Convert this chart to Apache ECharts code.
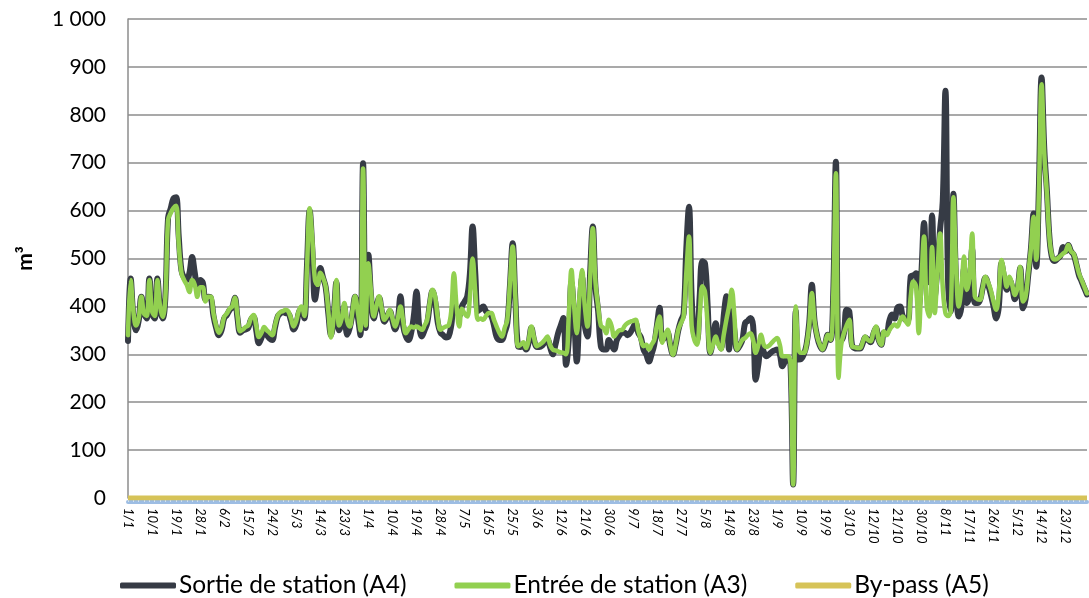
<!DOCTYPE html>
<html>
<head>
<meta charset="utf-8">
<title>Volumes journaliers</title>
<script src="https://cdn.jsdelivr.net/npm/echarts@6/dist/echarts.min.js"></script>
<style>
  html, body { margin: 0; padding: 0; background: #fff; }
  #chart { width: 1089px; height: 598px; }
</style>
</head>
<body>
<div id="chart"></div>
<script>
// days with no measurement (the axis jumps from 19/9 to 3/10 in 9 steps)
var missingDays = ['24/9', '25/9', '26/9', '27/9', '28/9']
var monthLengths = [31, 28, 31, 30, 31, 30, 31, 31, 30, 31, 30, 31]

var yTicks = [0, 100, 200, 300, 400, 500, 600, 700, 800, 900, 1000]

// Sortie de station (A4), m3
var sortieA4 = [
  328, 458, 380, 350, 370, 420, 385, 375, 458, 385,
  375, 458, 395, 375, 420, 585, 605, 625, 628, 545,
  475, 460, 455, 470, 503, 470, 440, 455, 450, 415,
  420, 418, 380, 355, 340, 350, 375, 382, 392, 398,
  418, 375, 345, 350, 352, 355, 372, 378, 350, 323,
  335, 350, 340, 333, 330, 355, 378, 385, 388, 386,
  385, 370, 352, 362, 388, 395, 375, 485, 600, 520,
  414, 450, 480, 460, 440, 385, 340, 380, 450, 350,
  365, 400, 341, 355, 385, 420, 380, 340, 699, 355,
  508, 420, 375, 398, 418, 390, 368, 378, 390, 370,
  352, 372, 421, 360, 338, 330, 345, 380, 431, 360,
  337, 350, 365, 405, 432, 410, 365, 345, 340, 335,
  337, 360, 400, 395, 380, 400, 410, 421, 470, 567,
  470, 390, 395, 400, 390, 385, 380, 360, 336, 330,
  330, 345, 365, 445, 532, 415, 317, 315, 320, 310,
  325, 355, 330, 315, 315, 318, 325, 332, 315, 300,
  320, 344, 360, 376, 278, 330, 450, 380, 285, 390,
  460, 360, 337, 470, 567, 440, 390, 317, 310, 310,
  330, 320, 310, 330, 340, 345, 345, 340, 345, 355,
  365, 345, 335, 310, 300, 285, 300, 320, 360, 397,
  330, 335, 345, 318, 300, 320, 350, 370, 385, 520,
  608, 420, 340, 330, 420, 494, 490, 400, 303, 330,
  365, 330, 312, 380, 421, 310, 390, 350, 310, 318,
  330, 365, 370, 376, 360, 247, 280, 320, 305, 296,
  300, 305, 308, 310, 300, 275, 285, 290, 280, 28,
  390, 289, 290, 300, 320, 365, 445, 370, 337, 318,
  310, 322, 341, 330, 425, 702, 330, 330, 344, 393,
  390, 320, 313, 312, 312, 322, 335, 330, 325, 342,
  355, 330, 320, 345, 345, 370, 383, 375, 397, 400,
  380, 372, 370, 462, 465, 469, 400, 470, 574, 470,
  450, 590, 420, 480, 560, 620, 850, 450, 390, 635,
  450, 379, 400, 480, 407, 420, 520, 407, 407, 414,
  440, 460, 445, 425, 400, 375, 400, 490, 460, 435,
  455, 440, 415, 435, 480, 396, 415, 465, 520, 594,
  483, 650, 878, 730, 640, 540, 500, 495, 500, 505,
  524, 515, 528, 515, 508, 488, 465, 452, 438, 425
]

// Entrée de station (A3), m3
var entreeA3 = [
  340, 455, 390, 360, 375, 420, 385, 380, 455, 390,
  380, 455, 400, 378, 420, 580, 595, 605, 610, 530,
  470, 455, 445, 430, 455, 445, 420, 440, 440, 410,
  420, 420, 385, 360, 345, 355, 378, 385, 395, 400,
  418, 380, 348, 352, 357, 360, 375, 382, 360, 336,
  345, 357, 350, 345, 340, 360, 380, 388, 390, 393,
  390, 375, 358, 370, 392, 400, 380, 480, 605, 540,
  455, 445, 470, 460, 442, 390, 335, 380, 455, 360,
  375, 407, 370, 358, 390, 421, 390, 350, 688, 360,
  490, 430, 379, 400, 421, 395, 372, 380, 393, 375,
  358, 375, 400, 370, 344, 352, 358, 356, 358, 355,
  351, 360, 372, 410, 435, 420, 375, 351, 355, 358,
  360, 390, 469, 400, 358, 395, 385, 379, 420, 500,
  430, 372, 375, 372, 380, 386, 386, 372, 358, 345,
  337, 355, 372, 450, 525, 420, 317, 320, 325, 313,
  330, 358, 335, 317, 320, 324, 330, 337, 320, 310,
  308, 306, 304, 303, 300, 380, 476, 400, 344, 420,
  476, 400, 358, 460, 563, 450, 400, 360, 355, 344,
  372, 360, 337, 345, 350, 351, 360, 365, 368, 370,
  372, 350, 330, 317, 320, 310, 320, 330, 360, 379,
  324, 340, 351, 320, 299, 320, 351, 365, 379, 470,
  546, 360, 330, 320, 380, 442, 430, 360, 303, 320,
  337, 320, 310, 340, 372, 400, 435, 380, 310, 320,
  330, 334, 340, 344, 330, 303, 320, 341, 320, 315,
  318, 324, 330, 334, 320, 296, 296, 296, 280, 28,
  400, 310, 303, 303, 320, 360, 428, 370, 337, 320,
  310, 325, 341, 330, 420, 678, 251, 320, 344, 360,
  372, 317, 315, 313, 313, 325, 337, 330, 327, 345,
  358, 330, 320, 348, 340, 350, 358, 362, 358, 370,
  379, 370, 362, 420, 452, 442, 344, 450, 546, 400,
  379, 524, 386, 470, 552, 440, 386, 380, 390, 628,
  480, 400, 440, 504, 434, 460, 552, 421, 415, 414,
  440, 462, 450, 434, 410, 393, 430, 497, 470, 441,
  462, 445, 424, 440, 483, 410, 420, 469, 520, 587,
  497, 640, 864, 720, 635, 540, 504, 498, 500, 505,
  510, 515, 528, 515, 510, 490, 469, 455, 441, 427
]

// By-pass (A5), m3 : nothing over the year
var bypassA5 = [
  0, 0, 0, 0, 0, 0, 0, 0, 0, 0, 0, 0, 0, 0, 0, 0, 0, 0, 0, 0, 0, 0, 0, 0, 0, 0, 0, 0, 0, 0,
  0, 0, 0, 0, 0, 0, 0, 0, 0, 0, 0, 0, 0, 0, 0, 0, 0, 0, 0, 0, 0, 0, 0, 0, 0, 0, 0, 0, 0, 0,
  0, 0, 0, 0, 0, 0, 0, 0, 0, 0, 0, 0, 0, 0, 0, 0, 0, 0, 0, 0, 0, 0, 0, 0, 0, 0, 0, 0, 0, 0,
  0, 0, 0, 0, 0, 0, 0, 0, 0, 0, 0, 0, 0, 0, 0, 0, 0, 0, 0, 0, 0, 0, 0, 0, 0, 0, 0, 0, 0, 0,
  0, 0, 0, 0, 0, 0, 0, 0, 0, 0, 0, 0, 0, 0, 0, 0, 0, 0, 0, 0, 0, 0, 0, 0, 0, 0, 0, 0, 0, 0,
  0, 0, 0, 0, 0, 0, 0, 0, 0, 0, 0, 0, 0, 0, 0, 0, 0, 0, 0, 0, 0, 0, 0, 0, 0, 0, 0, 0, 0, 0,
  0, 0, 0, 0, 0, 0, 0, 0, 0, 0, 0, 0, 0, 0, 0, 0, 0, 0, 0, 0, 0, 0, 0, 0, 0, 0, 0, 0, 0, 0,
  0, 0, 0, 0, 0, 0, 0, 0, 0, 0, 0, 0, 0, 0, 0, 0, 0, 0, 0, 0, 0, 0, 0, 0, 0, 0, 0, 0, 0, 0,
  0, 0, 0, 0, 0, 0, 0, 0, 0, 0, 0, 0, 0, 0, 0, 0, 0, 0, 0, 0, 0, 0, 0, 0, 0, 0, 0, 0, 0, 0,
  0, 0, 0, 0, 0, 0, 0, 0, 0, 0, 0, 0, 0, 0, 0, 0, 0, 0, 0, 0, 0, 0, 0, 0, 0, 0, 0, 0, 0, 0,
  0, 0, 0, 0, 0, 0, 0, 0, 0, 0, 0, 0, 0, 0, 0, 0, 0, 0, 0, 0, 0, 0, 0, 0, 0, 0, 0, 0, 0, 0,
  0, 0, 0, 0, 0, 0, 0, 0, 0, 0, 0, 0, 0, 0, 0, 0, 0, 0, 0, 0, 0, 0, 0, 0, 0, 0, 0, 0, 0, 0
]

// day/month labels for the year, minus the missing days
var days = []
monthLengths.forEach(function (len, m) {
  for (var d = 1; d <= len; d++) {
    var label = d + '/' + (m + 1)
    if (missingDays.indexOf(label) < 0) days.push(label)
  }
})

var font = 'Lato, "Open Sans", sans-serif'

var chart = echarts.init(document.getElementById('chart'))
chart.setOption({
  animation: false,
  textStyle: { fontFamily: font },
  grid: { left: 128, right: 2, top: 19, bottom: 100, containLabel: false },
  legend: {
    left: 115,
    top: 568,
    icon: 'roundRect',
    itemWidth: 56,
    itemHeight: 6,
    itemGap: 48,
    textStyle: { fontFamily: font, fontSize: 24.5, color: '#000', padding: [0, 0, 0, -2] },
    data: ['Sortie de station (A4)', 'Entrée de station (A3)', 'By-pass (A5)']
  },
  xAxis: {
    type: 'category',
    data: days,
    boundaryGap: false,
    offset: 4,
    axisLine: { onZero: false, lineStyle: { color: '#9dbde3', width: 4 } },
    axisTick: { show: true, inside: true, interval: 1, length: 4, lineStyle: { color: '#cfe0f3', width: 1 } },
    axisLabel: {
      interval: 8,
      rotate: -90,
      fontSize: 13,
      fontStyle: 'italic',
      color: '#000',
      margin: 6
    },
    splitLine: { show: false }
  },
  yAxis: {
    type: 'value',
    min: yTicks[0],
    max: yTicks[yTicks.length - 1],
    interval: 100,
    name: 'm³',
    nameLocation: 'middle',
    nameRotate: 90,
    nameGap: 92,
    nameTextStyle: { fontFamily: font, fontSize: 21, fontWeight: 'bold', color: '#000' },
    axisLine: { show: true, lineStyle: { color: '#8c8c8c', width: 1.5 } },
    axisTick: { show: false },
    axisLabel: {
      fontSize: 21,
      color: '#000',
      margin: 22,
      formatter: function (v) {
        return String(v).replace(/\B(?=(\d{3})+(?!\d))/g, ' ')
      }
    },
    splitLine: { lineStyle: { color: '#8c8c8c', width: 1.5 } }
  },
  series: [
    {
      name: 'Sortie de station (A4)',
      type: 'line',
      data: sortieA4,
      smooth: 0.4,
      showSymbol: false,
      lineStyle: { color: '#363b45', width: 6, cap: 'round', join: 'round' },
      itemStyle: { color: '#363b45' }
    },
    {
      name: 'Entrée de station (A3)',
      type: 'line',
      data: entreeA3,
      smooth: 0.4,
      showSymbol: false,
      lineStyle: { color: '#92d050', width: 4.5, cap: 'round', join: 'round' },
      itemStyle: { color: '#92d050' }
    },
    {
      name: 'By-pass (A5)',
      type: 'line',
      data: bypassA5,
      showSymbol: false,
      lineStyle: { color: '#d6c358', width: 5 },
      itemStyle: { color: '#d6c358' }
    }
  ]
})
</script>
</body>
</html>
